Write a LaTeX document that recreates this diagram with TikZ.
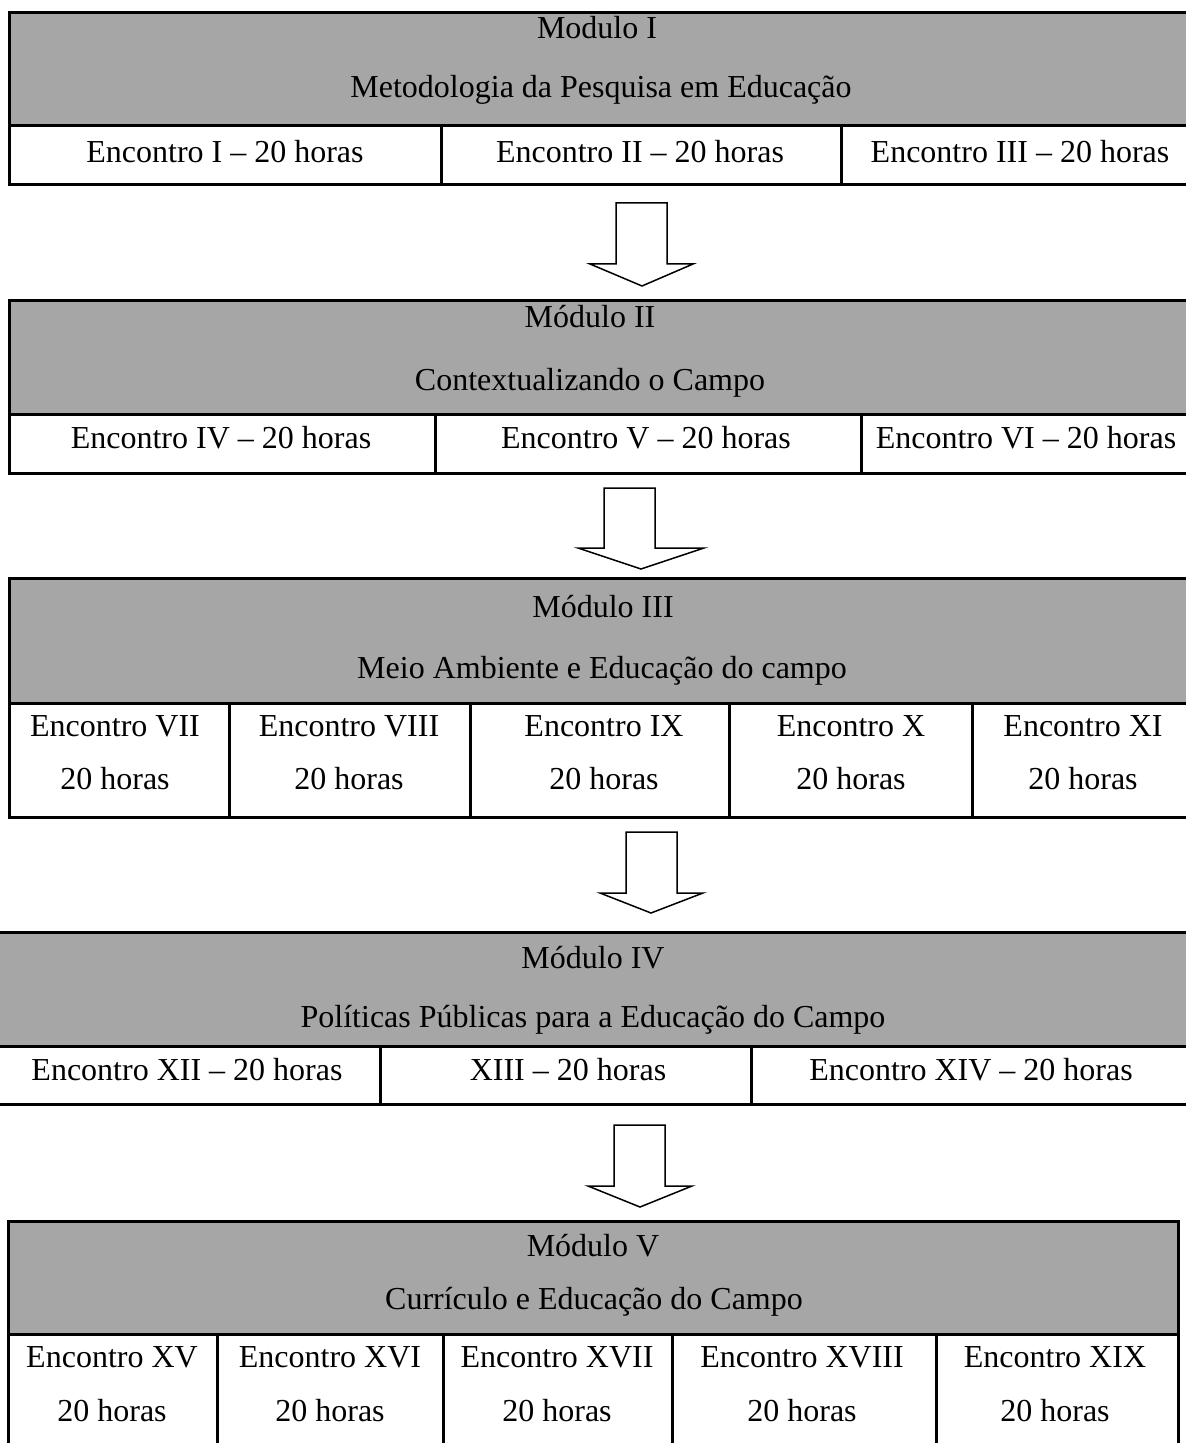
\documentclass[tikz,border=0pt]{standalone}
\usepackage{fontspec}
\setmainfont{Liberation Serif}
\definecolor{hdr}{RGB}{166,166,166}
\tikzset{
  rule/.style={line width=1.5pt, line cap=rect},
  txt/.style={anchor=base, inner sep=0pt, font=\fontsize{16}{19}\selectfont},
  blockarrow/.style={draw, line width=0.75pt, fill=white, line join=miter}
}
\begin{document}
\begin{tikzpicture}[x=0.5pt,y=-0.5pt]
\useasboundingbox (0,0) rectangle (1185,1443);

% ---------- Table 1 ----------
\fill[hdr] (9,13) rectangle (1195,126);
\draw[rule] (9,13) -- (1195,13);
\draw[rule] (9,126) -- (1195,126);
\draw[rule] (9,185) -- (1195,185);
\draw[rule] (9,13) -- (9,185);
\draw[rule] (441,126) -- (441,185);
\draw[rule] (841,126) -- (841,185);
\node[txt] (m1a) at (597,39) {Modulo I};
\node[txt] (m1b) at (601,98) {Metodologia da Pesquisa em Educação};
\node[txt] (e1) at (225,163) {Encontro I – 20 horas};
\node[txt] (e2) at (640,163) {Encontro II – 20 horas};
\node[txt] (e3) at (1020,163) {Encontro III – 20 horas};

% arrow 1
\draw[blockarrow] (616,203) -- (667,203) -- (667,264) -- (693,264) -- (642,286) -- (590,264) -- (616,264) -- cycle;

% ---------- Table 2 ----------
\fill[hdr] (9,301) rectangle (1195,415);
\draw[rule] (9,301) -- (1195,301);
\draw[rule] (9,415) -- (1195,415);
\draw[rule] (9,473) -- (1195,473);
\draw[rule] (9,301) -- (9,473);
\draw[rule] (435,415) -- (435,473);
\draw[rule] (861,415) -- (861,473);
\node[txt] (m2a) at (590,328) {Módulo II};
\node[txt] (m2b) at (590,391) {Contextualizando o Campo};
\node[txt] (e4) at (221,448) {Encontro IV – 20 horas};
\node[txt] (e5) at (646,448) {Encontro V – 20 horas};
\node[txt] (e6) at (1026,448) {Encontro VI – 20 horas};

% arrow 2
\draw[blockarrow] (604,488) -- (655,488) -- (655,548) -- (704,548) -- (641,569) -- (578,548) -- (604,548) -- cycle;

% ---------- Table 3 ----------
\fill[hdr] (9,578) rectangle (1195,703);
\draw[rule] (9,578) -- (1195,578);
\draw[rule] (9,703) -- (1195,703);
\draw[rule] (9,817) -- (1195,817);
\draw[rule] (9,578) -- (9,817);
\draw[rule] (229,703) -- (229,817);
\draw[rule] (470,703) -- (470,817);
\draw[rule] (729,703) -- (729,817);
\draw[rule] (972,703) -- (972,817);
\node[txt] (m3a) at (603,617) {Módulo III};
\node[txt] (m3b) at (602,678) {Meio Ambiente e Educação do campo};
\node[txt] (e7a) at (115,736) {Encontro VII};
\node[txt] (e7b) at (115,789) {20 horas};
\node[txt] (e8a) at (349,736) {Encontro VIII};
\node[txt] (e8b) at (349,789) {20 horas};
\node[txt] (e9a) at (604,736) {Encontro IX};
\node[txt] (e9b) at (604,789) {20 horas};
\node[txt] (e10a) at (851,736) {Encontro X};
\node[txt] (e10b) at (851,789) {20 horas};
\node[txt] (e11a) at (1083,736) {Encontro XI};
\node[txt] (e11b) at (1083,789) {20 horas};

% arrow 3
\draw[blockarrow] (626,832) -- (677,832) -- (677,893) -- (703,893) -- (651,913) -- (600,893) -- (626,893) -- cycle;

% ---------- Table 4 ----------
\fill[hdr] (-5,932) rectangle (1195,1046);
\draw[rule] (-5,932) -- (1195,932);
\draw[rule] (-5,1046) -- (1195,1046);
\draw[rule] (-5,1104) -- (1195,1104);
\draw[rule] (380,1046) -- (380,1104);
\draw[rule] (751,1046) -- (751,1104);
\node[txt] (m4a) at (593,968) {Módulo IV};
\node[txt] (m4b) at (593,1027) {Políticas Públicas para a Educação do Campo};
\node[txt] (e12) at (187,1080) {Encontro XII – 20 horas};
\node[txt] (e13) at (568,1080) {XIII – 20 horas};
\node[txt] (e14) at (971,1080) {Encontro XIV – 20 horas};

% arrow 4
\draw[blockarrow] (614,1125) -- (665,1125) -- (665,1186) -- (692,1186) -- (640,1207) -- (588,1186) -- (614,1186) -- cycle;

% ---------- Table 5 ----------
\fill[hdr] (8,1221) rectangle (1178,1334);
\draw[rule] (8,1221) -- (1178,1221);
\draw[rule] (8,1334) -- (1178,1334);
\draw[rule] (8,1221) -- (8,1460);
\draw[rule] (1178,1221) -- (1178,1460);
\draw[rule] (217,1334) -- (217,1460);
\draw[rule] (443,1334) -- (443,1460);
\draw[rule] (672,1334) -- (672,1460);
\draw[rule] (936,1334) -- (936,1460);
\node[txt] (m5a) at (593,1256) {Módulo V};
\node[txt] (m5b) at (594,1309) {Currículo e Educação do Campo};
\node[txt] (e15a) at (112,1367) {Encontro XV};
\node[txt] (e15b) at (112,1421) {20 horas};
\node[txt] (e16a) at (330,1367) {Encontro XVI};
\node[txt] (e16b) at (330,1421) {20 horas};
\node[txt] (e17a) at (557,1367) {Encontro XVII};
\node[txt] (e17b) at (557,1421) {20 horas};
\node[txt] (e18a) at (802,1367) {Encontro XVIII};
\node[txt] (e18b) at (802,1421) {20 horas};
\node[txt] (e19a) at (1055,1367) {Encontro XIX};
\node[txt] (e19b) at (1055,1421) {20 horas};
\end{tikzpicture}
\end{document}
